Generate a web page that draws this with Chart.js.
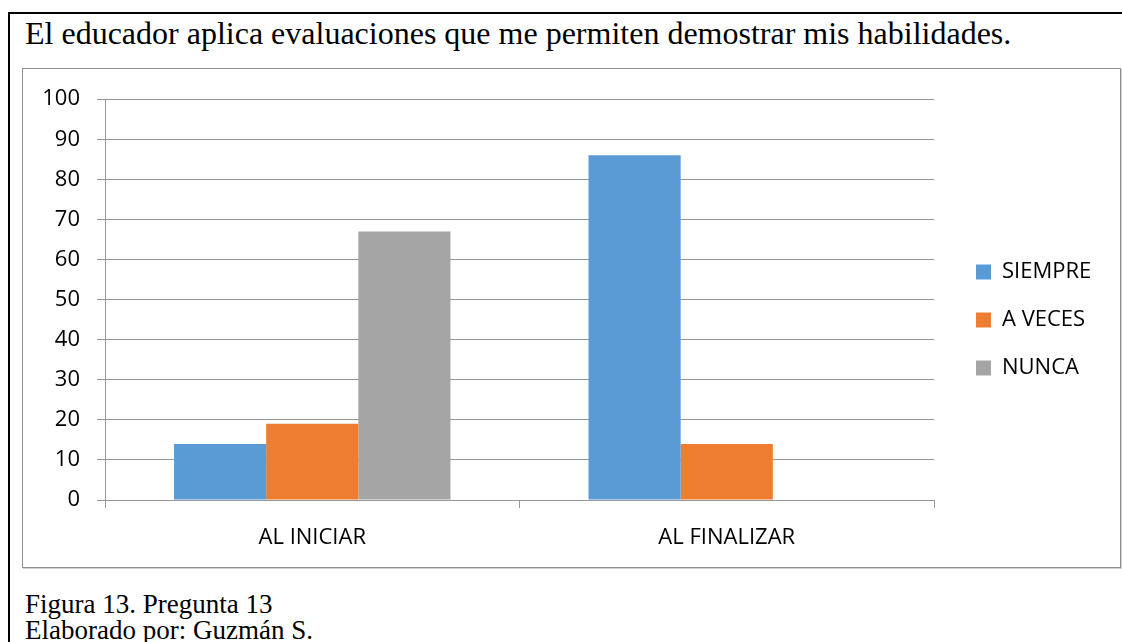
<!DOCTYPE html>
<html>
<head>
<meta charset="utf-8">
<script src="https://cdn.jsdelivr.net/npm/chart.js@4.4.1/dist/chart.umd.min.js"></script>
<style>
	html, body { margin: 0; padding: 0; background: #fff; width: 1122px; height: 642px; overflow: hidden; }
	.frame { position: absolute; left: 8px; top: 12px; width: 1140px; height: 660px; border-left: 2px solid #000; border-top: 2px solid #000; }
	.title { position: absolute; left: 25px; top: 17px; font: 32px/32px "Liberation Serif", serif; color: #000; white-space: nowrap; }
	.box { position: absolute; left: 22px; top: 68px; width: 1097px; height: 498px; border: 1px solid #8f8f8f; box-shadow: 1px 1px 0 #cfcfcf; background: #fff; }
	.box canvas { position: absolute; left: 0; top: 0; }
	.caption { position: absolute; left: 25px; top: 591px; font: 27px/26px "Liberation Serif", serif; color: #000; white-space: nowrap; }
</style>
</head>
<body>
<div class="frame"></div>
<div class="title">El educador aplica evaluaciones que me permiten demostrar mis habilidades.</div>
<div class="box"><canvas id="chart" width="1097" height="498"></canvas></div>
<div class="caption">Figura 13. Pregunta 13<br>Elaborado por: Guzmán S.</div>
<script>
	const categories = ['AL INICIAR', 'AL FINALIZAR'];
	const seriesNames = ['SIEMPRE', 'A VECES', 'NUNCA'];
	const siempre = [14, 86];
	const aVeces = [19, 14];
	const nunca = [67, 0];
	const yMin = 0;
	const yMax = 100;
	const yStep = 10;

	const colors = ['#5B9BD5', '#ED7D31', '#A5A5A5'];
	const gridColor = '#979797';
	const labelFont = { family: '"Open Sans", sans-serif', size: 22 };

	// legend sits a little further from the plot than chart.js puts it
	const legendPlace = {
		id: 'legendPlace',
		afterLayout(chart) {
			const lg = chart.legend;
			lg.left = chart.chartArea.right + 16;
			lg.right = lg.left + lg.width;
			lg.top = 2;
			lg.bottom = chart.height + 2;
		}
	};

	const ctx = document.getElementById('chart').getContext('2d');
	new Chart(ctx, {
		type: 'bar',
		data: {
			labels: categories,
			datasets: [siempre, aVeces, nunca].map((values, i) => ({
				label: seriesNames[i],
				data: values,
				backgroundColor: colors[i],
				borderWidth: 0,
				categoryPercentage: 0.667,
				barPercentage: 1,
			})),
		},
		options: {
			responsive: false,
			animation: false,
			layout: { padding: { left: 0, top: 29, right: 36, bottom: 0 } },
			plugins: {
				legend: {
					position: 'right',
					maxWidth: 150,
					labels: {
						boxWidth: 15,
						boxHeight: 15,
						padding: 26,
						color: '#000',
						font: labelFont,
					},
				},
				tooltip: { enabled: false },
			},
			scales: {
				x: {
					afterFit: (scale) => { scale.height = 67; },
					grid: {
						display: true,
						offset: true,
						drawOnChartArea: false,
						drawTicks: true,
						tickLength: 8,
						color: gridColor,
					},
					border: { display: true, color: gridColor, width: 1 },
					ticks: { color: '#000', font: labelFont, padding: 17, maxRotation: 0 },
				},
				y: {
					min: yMin,
					max: yMax,
					afterFit: (scale) => { scale.width = 82; },
					grid: {
						color: gridColor,
						drawTicks: true,
						tickLength: 8,
					},
					border: { display: true, color: gridColor, width: 1 },
					ticks: { stepSize: yStep, color: '#000', font: labelFont, padding: 17 },
				},
			},
		},
		plugins: [legendPlace],
	});
</script>
</body>
</html>
